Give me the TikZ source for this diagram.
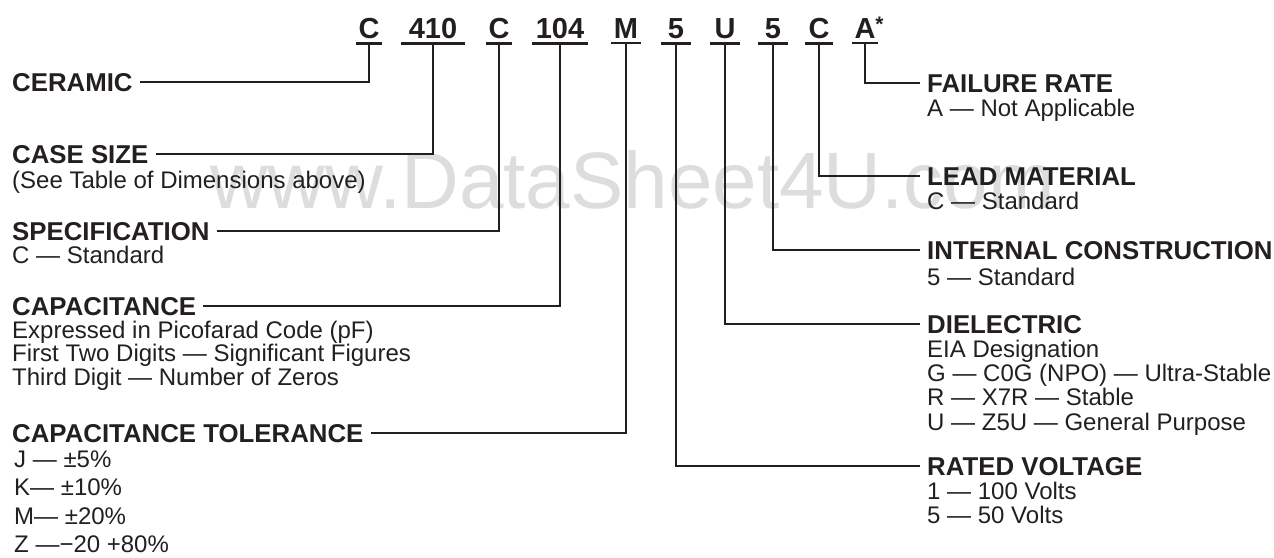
\documentclass[tikz,border=0pt]{standalone}
\usepackage{fontspec}
\setmainfont{Liberation Sans}
\usetikzlibrary{positioning}
\definecolor{ink}{RGB}{35,31,32}
\definecolor{wmark}{RGB}{221,221,221}

\begin{document}
\begin{tikzpicture}[x=1pt, y=-1pt, ink,
	code/.style={font=\bfseries\fontsize{29}{29}\selectfont, inner xsep=0pt, inner ysep=5pt, anchor=base},
	head/.style={font=\bfseries\fontsize{25.8}{26}\selectfont, inner sep=0pt, anchor=base west},
	desc/.style={font=\fontsize{24}{23.5}\selectfont, inner sep=0pt, anchor=base west, align=left},
	lead/.style={line width=2.2pt},
	ul/.style={line width=2.2pt}]
				\useasboundingbox (0,0) rectangle (1274,557);
				\node [anchor=base west, inner sep=0pt, wmark, font=\fontsize{80}{80}\selectfont] (wm) at (210,208) {www.DataSheet4U.com};

				\node [code, minimum width=25pt] (c1) at (369,38) {C};
				\node [code, minimum width=63pt] (c2) at (433,38) {410};
				\node [code, minimum width=25pt] (c3) at (499,38) {C};
				\node [code, minimum width=56pt] (c4) at (560,38) {104};
				\node [code, minimum width=29pt] (c5) at (626,38) {M};
				\node [code, minimum width=30pt] (c6) at (676,38) {5};
				\node [code, minimum width=30pt] (c7) at (725,38) {U};
				\node [code, minimum width=30pt] (c8) at (773,38) {5};
				\node [code, minimum width=28pt] (c9) at (819,38) {C};
				\node [code, minimum width=25pt] (c10) at (865,38) {A\rlap{\raisebox{7pt}{\fontsize{21}{21}\selectfont *}}};
				\foreach \n in {c1,c2,c3,c4,c5,c6,c7,c8,c9,c10}
					\draw [ul] (\n.south west) -- (\n.south east);

				\node [head] (ceramic) at (12,91) {CERAMIC};
				\node [head] (casesize) at (12,163) {CASE SIZE};
				\node [desc] (casesize-d) at ([yshift=-25pt]casesize.base west) {(See Table of Dimensions above)};
				\node [head] (spec) at (12,240) {SPECIFICATION};
				\node [desc] (spec-d) at ([yshift=-23pt]spec.base west) {C — Standard};
				\node [head] (capac) at (12,315) {CAPACITANCE};
				\node [desc] (capac-d) at ([yshift=-70pt]capac.base west) {Expressed in Picofarad Code (pF)\\First Two Digits — Significant Figures\\Third Digit — Number of Zeros};
				\node [head] (tol) at (12,442) {CAPACITANCE TOLERANCE};
				\node [desc, font=\fontsize{24}{28.5}\selectfont] (tol-d) at ([xshift=2pt, yshift=-110.5pt]tol.base west) {J — ±5\%\\K— ±10\%\\M— ±20\%\\Z —−20 +80\%};

				\node [head] (failure) at (927,92) {FAILURE RATE};
				\node [desc] (failure-d) at ([yshift=-24pt]failure.base west) {A — Not Applicable};
				\node [head] (lead) at (927,185) {LEAD MATERIAL};
				\node [desc] (lead-d) at ([yshift=-24pt]lead.base west) {C — Standard};
				\node [head] (internal) at (927,259) {INTERNAL CONSTRUCTION};
				\node [desc] (internal-d) at ([yshift=-26pt]internal.base west) {5 — Standard};
				\node [head] (dielectric) at (927,333) {DIELECTRIC};
				\node [desc, font=\fontsize{24}{24.3}\selectfont] (dielectric-d) at ([yshift=-97pt]dielectric.base west) {EIA Designation\\G — C0G (NPO) — Ultra-Stable\\R — X7R — Stable\\U — Z5U — General Purpose};
				\node [head] (rated) at (927,475) {RATED VOLTAGE};
				\node [desc, font=\fontsize{24}{24}\selectfont] (rated-d) at ([yshift=-48pt]rated.base west) {1 — 100 Volts\\5 — 50 Volts};

				\draw [lead, shorten <=7pt] (ceramic.east) -| (c1.south);
				\draw [lead, shorten <=7pt] (casesize.east) -| (c2.south);
				\draw [lead, shorten <=7pt] (spec.east) -| (c3.south);
				\draw [lead, shorten <=7pt] (capac.east) -| (c4.south);
				\draw [lead, shorten <=7pt] (tol.east) -| (c5.south);
				\draw [lead, shorten >=7pt] (c6.south) |- (rated.west);
				\draw [lead, shorten >=7pt] (c7.south) |- (dielectric.west);
				\draw [lead, shorten >=7pt] (c8.south) |- (internal.west);
				\draw [lead, shorten >=7pt] (c9.south) |- (lead.west);
				\draw [lead, shorten >=7pt] (c10.south) |- (failure.west);
			\end{tikzpicture}
\end{document}
